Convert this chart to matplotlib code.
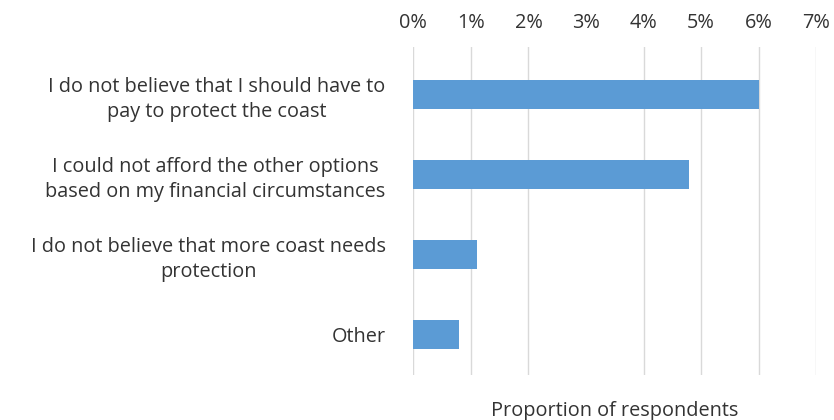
import numpy as np
import matplotlib.pyplot as plt

# Reasons given for choosing the "no extra payment" option
reasons = [
    "I do not believe that I should have to\npay to protect the coast",
    "I could not afford the other options\nbased on my financial circumstances",
    "I do not believe that more coast needs\nprotection",
    "Other",
]
share = [6.0, 4.79, 1.1, 0.8]  # percent of respondents
ticks = [0, 1, 2, 3, 4, 5, 6, 7]

plt.rcParams['font.family'] = ['Open Sans', 'DejaVu Sans']
txt = '#333333'
fs = 14.3

fig = plt.figure(figsize=(8.34, 4.2), dpi=100)
ax = fig.add_axes([0.4956, 0.107, 0.4832, 0.781])

y = np.arange(len(reasons))
ax.barh(y, share, height=0.36, color='#5B9BD5', zorder=3)

ax.set_xlim(0, 7)
ax.set_ylim(3.51, -0.594)
ax.set_xticks(ticks)
ax.set_xticklabels(['%d%%' % t for t in ticks], fontsize=fs, color=txt)
ax.xaxis.tick_top()
ax.tick_params(axis='x', length=0, pad=10)
ax.set_yticks(y)
ax.set_yticklabels(reasons, fontsize=fs, color=txt, multialignment='center',
                   linespacing=1.35)
ax.tick_params(axis='y', length=0, pad=20)

ax.grid(axis='x', color='#d9d9d9', linewidth=1, zorder=0)
ax.xaxis.get_gridlines()[3].set_visible(False)
for s in ax.spines.values():
    s.set_visible(False)

ax.set_xlabel('Proportion of respondents', fontsize=fs, color=txt, labelpad=19)
ax.xaxis.set_label_position('bottom')

fig.savefig('out.png', dpi=100)
